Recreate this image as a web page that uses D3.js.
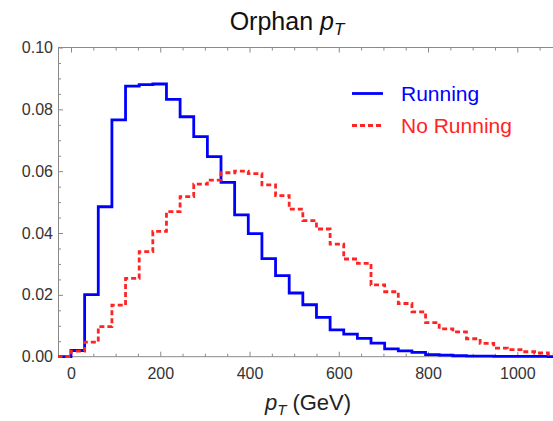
<!DOCTYPE html>
<html>
<head>
<meta charset="utf-8">
<script src="https://cdn.jsdelivr.net/npm/d3@7"></script>
<style>
  html, body { margin: 0; padding: 0; background: #fff; }
  svg { display: block; font-family: "Liberation Sans", Arial, sans-serif; }
</style>
</head>
<body>
<svg id="chart" width="553" height="421"></svg>
<script>
// Histogram of orphan-jet pT, 36 bins from 0 to 1100 GeV
const binWidth = 1100 / 36;
const runningValues = [
  0.0020, 0.0201, 0.0485, 0.0766, 0.0875, 0.0880, 0.0882, 0.0832, 0.0776, 0.0712,
  0.0647, 0.0564, 0.0459, 0.0398, 0.0317, 0.0262, 0.0206, 0.0168, 0.0127, 0.0087,
  0.0073, 0.0059, 0.0044, 0.0025, 0.0019, 0.0014, 0.0007, 0.0005, 0.0003, 0.0002,
  0.0002, 0.0001, 0.0001, 0.0001, 0.0001, 0.0000
];
const noRunningValues = [
  0.0018, 0.0047, 0.0097, 0.0167, 0.0253, 0.0340, 0.0405, 0.0469, 0.0518, 0.0558,
  0.0571, 0.0595, 0.0600, 0.0592, 0.0556, 0.0521, 0.0477, 0.0440, 0.0413, 0.0364,
  0.0316, 0.0302, 0.0232, 0.0210, 0.0172, 0.0145, 0.0110, 0.0090, 0.0080, 0.0058,
  0.0043, 0.0028, 0.0023, 0.0016, 0.0012, 0.0008
];
const xMajorTicks = [0, 200, 400, 600, 800, 1000];
const xMinorTicks = [50, 100, 150, 250, 300, 350, 450, 500, 550, 650, 700, 750, 850, 900, 950, 1050];
const yMajorTicks = [0, 0.02, 0.04, 0.06, 0.08, 0.10];
const yMinorTicks = [0.005, 0.01, 0.015, 0.025, 0.03, 0.035, 0.045, 0.05, 0.055,
                     0.065, 0.07, 0.075, 0.085, 0.09, 0.095];
const seriesNames = ["Running", "No Running"];
const seriesColors = ["#0000ff", "#ff2424"];

const svg = d3.select("#chart");
const plotLeft = 58, plotRight = 562, plotTop = 47.5, plotBottom = 356.7;

const x = d3.scaleLinear().domain([0, 1000]).range([71, 517.3]);
const y = d3.scaleLinear().domain([0, 0.1]).range([plotBottom, plotTop]);

svg.append("defs").append("clipPath").attr("id", "plotClip")
  .append("rect").attr("x", plotLeft).attr("y", plotTop - 5)
  .attr("width", plotRight - plotLeft).attr("height", plotBottom - plotTop + 10);

// Frame and ticks
const frameColor = "#8a8a8a";
const tickFont = 16;

function styleAxis(g) {
  g.selectAll(".domain").attr("stroke", frameColor).attr("stroke-width", 1);
  g.selectAll(".tick line").attr("stroke", frameColor).attr("stroke-width", 1);
  g.selectAll(".tick text").attr("fill", "#333").attr("font-size", tickFont)
    .attr("font-family", "Liberation Sans, Arial, sans-serif");
}

const xBottom = svg.append("g").attr("transform", `translate(0,${plotBottom})`)
  .call(d3.axisBottom(x).tickValues(xMajorTicks).tickSize(-5).tickSizeOuter(0)
    .tickPadding(11).tickFormat(d3.format("d")));
styleAxis(xBottom);
xBottom.select(".domain").attr("d", `M${plotLeft},0H${plotRight}`);

const xBottomMinor = svg.append("g").attr("transform", `translate(0,${plotBottom})`)
  .call(d3.axisBottom(x).tickValues(xMinorTicks).tickSize(-3).tickFormat(""));
styleAxis(xBottomMinor);
xBottomMinor.select(".domain").remove();

const xTopAxis = svg.append("g").attr("transform", `translate(0,${plotTop})`)
  .call(d3.axisTop(x).tickValues(xMajorTicks).tickSize(-5).tickSizeOuter(0).tickFormat(""));
styleAxis(xTopAxis);
xTopAxis.select(".domain").attr("d", `M${plotLeft},0H${plotRight}`);

const xTopMinor = svg.append("g").attr("transform", `translate(0,${plotTop})`)
  .call(d3.axisTop(x).tickValues(xMinorTicks).tickSize(-3).tickFormat(""));
styleAxis(xTopMinor);
xTopMinor.select(".domain").remove();

const yLeftAxis = svg.append("g").attr("transform", `translate(${plotLeft},0)`)
  .call(d3.axisLeft(y).tickValues(yMajorTicks).tickSize(-5).tickSizeOuter(0)
    .tickPadding(5).tickFormat(d3.format(".2f")));
styleAxis(yLeftAxis);

const yLeftMinor = svg.append("g").attr("transform", `translate(${plotLeft},0)`)
  .call(d3.axisLeft(y).tickValues(yMinorTicks).tickSize(-3).tickFormat(""));
styleAxis(yLeftMinor);
yLeftMinor.select(".domain").remove();

// Step outlines of the two histograms
function stepPoints(values) {
  const pts = [{ e: -binWidth, v: 0 }];
  values.forEach((v, i) => pts.push({ e: i * binWidth, v }));
  pts.push({ e: values.length * binWidth, v: values[values.length - 1] });
  return pts;
}
const stepLine = d3.line().x(d => x(d.e)).y(d => y(d.v)).curve(d3.curveStepAfter);

const plot = svg.append("g").attr("clip-path", "url(#plotClip)");
plot.append("path").datum(stepPoints(runningValues))
  .attr("d", stepLine).attr("fill", "none")
  .attr("stroke", seriesColors[0]).attr("stroke-width", 2.8)
  .attr("stroke-linejoin", "miter");
plot.append("path").datum(stepPoints(noRunningValues))
  .attr("d", stepLine).attr("fill", "none")
  .attr("stroke", seriesColors[1]).attr("stroke-width", 2.8)
  .attr("stroke-dasharray", "5,3");

// Legend
const legend = svg.append("g");
const legendRows = [
  { name: seriesNames[0], color: seriesColors[0], dash: null, y: 93.5 },
  { name: seriesNames[1], color: seriesColors[1], dash: "5,3", y: 125.5 }
];
legendRows.forEach(r => {
  legend.append("line").attr("x1", 352).attr("x2", 383).attr("y1", r.y).attr("y2", r.y)
    .attr("stroke", r.color).attr("stroke-width", 2.8)
    .attr("stroke-dasharray", r.dash);
  legend.append("text").attr("x", 401).attr("y", r.y + 7.5)
    .attr("font-size", 21).attr("fill", r.color).text(r.name);
});

// Title
const title = svg.append("text").attr("x", 287).attr("y", 30)
  .attr("text-anchor", "middle").attr("font-size", 25).attr("fill", "#111");
title.append("tspan").text("Orphan ");
title.append("tspan").attr("font-style", "italic").text("p");
title.append("tspan").attr("font-style", "italic").attr("font-size", 17).attr("dy", 5).text("T");

// X axis label
const xLabel = svg.append("text").attr("x", 308).attr("y", 410)
  .attr("text-anchor", "middle").attr("font-size", 22).attr("fill", "#222");
xLabel.append("tspan").attr("font-style", "italic").text("p");
xLabel.append("tspan").attr("font-style", "italic").attr("font-size", 15).attr("dy", 5).text("T");
xLabel.append("tspan").attr("dy", -5).text(" (GeV)");
</script>
</body>
</html>
